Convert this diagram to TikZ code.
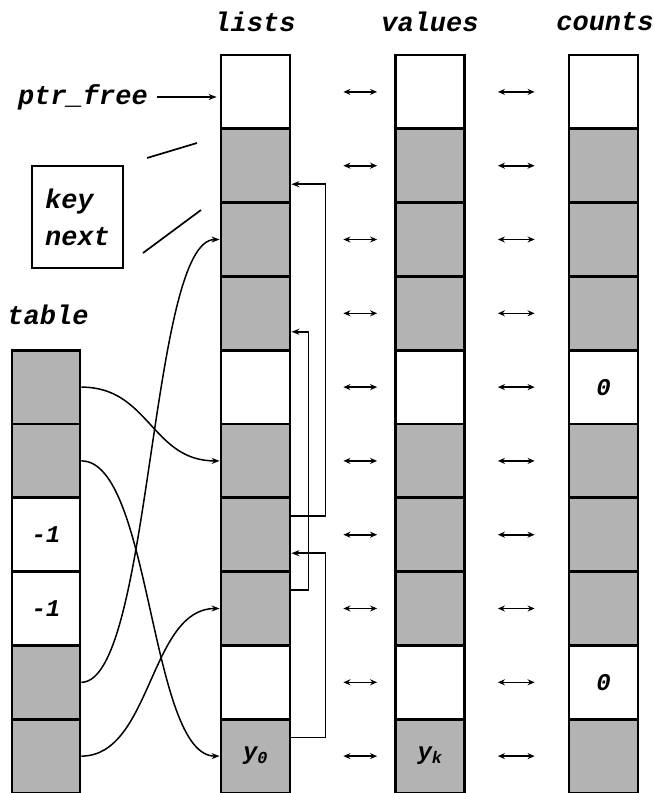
\documentclass[tikz,border=0pt]{standalone}
\usepackage{fontspec}
\setmonofont{Liberation Mono}
\usetikzlibrary{arrows.meta,calc}
\definecolor{cellgray}{HTML}{B3B3B3}
\newcommand*\colfont{\fontsize{27}{37}\selectfont\ttfamily\bfseries\itshape}
\newcommand*\cellfont{\fontsize{24}{28}\selectfont\ttfamily\bfseries\itshape}
\begin{document}
\begin{tikzpicture}[x=1pt,y=-1pt,
  cell/.style={draw, line width=2.8pt, minimum width=69pt, minimum height=73.8pt,
               inner sep=0pt, font=\cellfont},
  lbl/.style={font=\colfont, inner sep=0pt},
  conn/.style={line width=1.5pt, -{Stealth[length=8pt,width=6pt]}},
  dbl/.style={line width=1.6pt, {Stealth[length=7pt,width=6pt]}-{Stealth[length=7pt,width=6pt]}},
  tick/.style={line width=1.7pt}]
\useasboundingbox (0,0) rectangle (655,793);

% column headings
\node[lbl] (hlists)  at (255,22) {lists};
\node[lbl] (hvalues) at (430,22) {values};
\node[lbl] (hcounts) at (605,22) {counts};
\node[lbl] (htable)  at (48,315) {table};

% the three parallel arrays
\foreach \i/\f/\lt/\vt/\ct in {0/white///,1/cellgray///,2/cellgray///,3/cellgray///,
    4/white//{}/0,5/cellgray///,6/cellgray///,7/cellgray///,8/white//{}/0,
    9/cellgray/y\textsubscript{0}/y\textsubscript{k}/}{
  \pgfmathsetmacro\yc{55+73.8*(\i+0.5)}
  \node[cell, fill=\f] (L\i) at (255.5,\yc) {\lt};
  \node[cell, fill=\f] (V\i) at (430,\yc) {\vt};
  \node[cell, fill=\f] (C\i) at (603.5,\yc) {\ct};
}

% the hash table
\foreach \j/\f/\t in {0/cellgray/,1/cellgray/,2/white/-1,3/white/-1,4/cellgray/,5/cellgray/}{
  \pgfmathsetmacro\yc{55+73.8*(\j+4.5)}
  \node[cell, fill=\f, minimum width=68pt] (T\j) at (46,\yc) {\t};
}

% row correspondence between the arrays
\foreach \i in {0,...,9}{
  \draw[dbl] ([xshift=52pt]L\i.east) -- ([xshift=-17pt]V\i.west);
  \draw[dbl] ([xshift=32pt]V\i.east) -- ([xshift=-33pt]C\i.west);
}

% free-list pointer
\node[lbl, anchor=east] (ptr) at (148,97) {ptr\_free};
\draw[conn, shorten >=3pt] ([xshift=9pt]ptr.east) -- (ptr.east -| L0.west);

% record layout
\node[draw, line width=2.8pt, minimum width=91pt, minimum height=102pt,
      align=left, font=\colfont, inner sep=0pt] (kn) at (77.5,217) {key\\next};
\coordinate (ka) at (147,158);
\coordinate (kb) at (197,143);
\coordinate (kc) at (143,253);
\coordinate (kd) at (201,210);
\draw[tick] (ka) -- (kb);
\draw[tick] (kc) -- (kd);

% next links inside lists
\draw[conn] ($(L6.east)+(0,-18.5)$) -- ++(34,0) |- ($(L1.east)+(0,18.5)$);
\draw[conn] ($(L7.east)+(0,-18.5)$) -- ++(17,0) |- ($(L3.east)+(0,18.5)$);
\draw[conn] ($(L9.east)+(0,-18.5)$) -- ++(34,0) |- ($(L6.east)+(0,18.5)$);

% table heads into lists
\draw[conn] (T0.east) .. controls +(68,0) and +(-68,0) .. (L5.west);
\draw[conn] (T1.east) .. controls +(70,0) and +(-70,0) .. (L9.west);
\draw[conn] (T4.east) .. controls +(70,0) and +(-70,0) .. (L2.west);
\draw[conn] (T5.east) .. controls +(70,0) and +(-70,0) .. (L7.west);
\end{tikzpicture}
\end{document}
